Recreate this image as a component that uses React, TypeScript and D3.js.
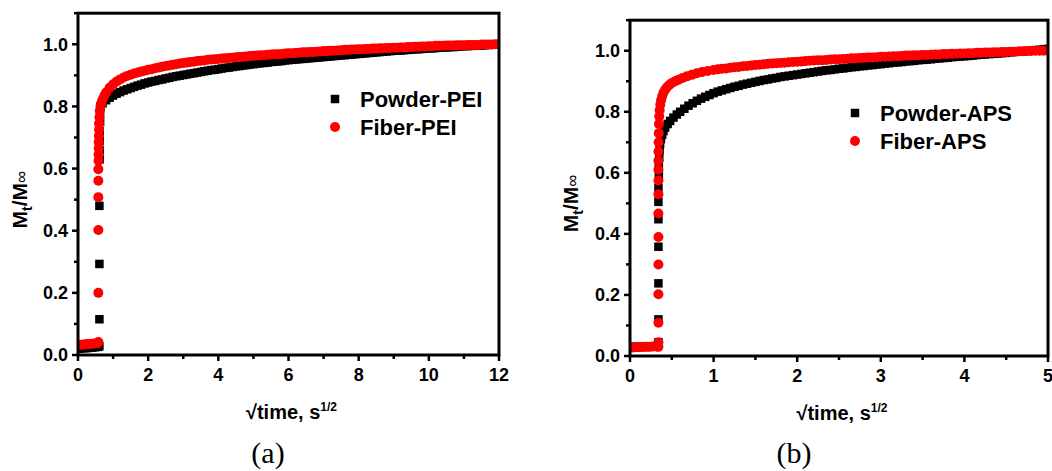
import React from 'react'
import * as d3 from 'd3'

// sorption curves: [sqrt(time), Mt/Minf]
const powderPEI: [number, number][] = [
  [0, 0.02], [0.08, 0.021], [0.16, 0.022], [0.24, 0.022], [0.32, 0.023], [0.4, 0.024], [0.48, 0.025], [0.56, 0.026], [0.61, 0.028],
  [0.61, 0.115], [0.61, 0.293], [0.61, 0.48], [0.62, 0.63], [0.62, 0.66], [0.62, 0.69], [0.62, 0.72], [0.63, 0.75], [0.63, 0.78], [0.64, 0.8],
  [0.7, 0.81], [0.8, 0.82], [0.9, 0.828], [1.0, 0.835], [1.1, 0.841], [1.2, 0.846], [1.3, 0.851], [1.4, 0.855], [1.5, 0.859], [1.6, 0.863],
  [1.7, 0.867], [1.8, 0.87], [1.9, 0.874], [2.0, 0.877], [2.1, 0.88], [2.2, 0.882], [2.3, 0.885], [2.4, 0.887], [2.5, 0.89],
  [2.6, 0.892], [2.7, 0.895], [2.8, 0.897], [2.9, 0.899], [3.0, 0.901], [3.1, 0.903], [3.2, 0.905], [3.3, 0.907], [3.4, 0.909],
  [3.5, 0.911], [3.6, 0.913], [3.7, 0.915], [3.8, 0.917], [3.9, 0.918], [4.0, 0.92], [4.1, 0.922], [4.2, 0.924], [4.3, 0.925],
  [4.4, 0.927], [4.5, 0.929], [4.6, 0.93], [4.7, 0.932], [4.8, 0.933], [4.9, 0.935], [5.0, 0.936], [5.1, 0.938], [5.2, 0.939],
  [5.3, 0.94], [5.4, 0.941], [5.5, 0.943], [5.6, 0.944], [5.7, 0.945], [5.8, 0.946], [5.9, 0.948], [6.0, 0.949], [6.1, 0.95],
  [6.2, 0.951], [6.3, 0.952], [6.4, 0.953], [6.5, 0.954], [6.6, 0.955], [6.7, 0.956], [6.8, 0.957], [6.9, 0.958], [7.0, 0.959],
  [7.1, 0.96], [7.2, 0.961], [7.3, 0.962], [7.4, 0.963], [7.5, 0.964], [7.6, 0.965], [7.7, 0.966], [7.8, 0.967], [7.9, 0.968],
  [8.0, 0.969], [8.1, 0.97], [8.2, 0.971], [8.3, 0.972], [8.4, 0.973], [8.5, 0.974], [8.6, 0.975], [8.7, 0.976], [8.8, 0.977],
  [8.9, 0.978], [9.0, 0.979], [9.1, 0.98], [9.2, 0.98], [9.3, 0.981], [9.4, 0.982], [9.5, 0.983], [9.6, 0.984], [9.7, 0.984],
  [9.8, 0.985], [9.9, 0.986], [10.0, 0.987], [10.1, 0.987], [10.2, 0.988], [10.3, 0.989], [10.4, 0.99], [10.5, 0.99], [10.6, 0.991],
  [10.7, 0.991], [10.8, 0.992], [10.9, 0.993], [11.0, 0.994], [11.1, 0.994], [11.2, 0.995], [11.3, 0.995], [11.4, 0.996],
  [11.5, 0.996], [11.6, 0.997], [11.7, 0.998], [11.8, 0.999], [11.9, 0.999], [12.0, 1.0],
]

const fiberPEI: [number, number][] = [
  [0, 0.032], [0.08, 0.033], [0.16, 0.034], [0.24, 0.035], [0.32, 0.035], [0.4, 0.036], [0.48, 0.037], [0.56, 0.038], [0.58, 0.042],
  [0.58, 0.2], [0.58, 0.402], [0.58, 0.508], [0.58, 0.561], [0.58, 0.598], [0.585, 0.625], [0.585, 0.645], [0.59, 0.665], [0.59, 0.685],
  [0.595, 0.705], [0.6, 0.725], [0.6, 0.745], [0.61, 0.765], [0.62, 0.785], [0.64, 0.8], [0.67, 0.812], [0.7, 0.822], [0.75, 0.834],
  [0.8, 0.845], [0.9, 0.86], [1.0, 0.871], [1.1, 0.88], [1.2, 0.887], [1.3, 0.893], [1.4, 0.898], [1.5, 0.902], [1.6, 0.906],
  [1.7, 0.909], [1.8, 0.912], [1.9, 0.915], [2.0, 0.918], [2.1, 0.92], [2.2, 0.923], [2.3, 0.925], [2.4, 0.928], [2.5, 0.93],
  [2.6, 0.932], [2.7, 0.934], [2.8, 0.936], [2.9, 0.938], [3.0, 0.94], [3.1, 0.941], [3.2, 0.943], [3.3, 0.944], [3.4, 0.946],
  [3.5, 0.947], [3.6, 0.948], [3.7, 0.95], [3.8, 0.951], [3.9, 0.952], [4.0, 0.953], [4.1, 0.954], [4.2, 0.955], [4.3, 0.956],
  [4.4, 0.957], [4.5, 0.958], [4.6, 0.959], [4.7, 0.96], [4.8, 0.961], [4.9, 0.962], [5.0, 0.963], [5.1, 0.964], [5.2, 0.965],
  [5.3, 0.965], [5.4, 0.966], [5.5, 0.967], [5.6, 0.968], [5.7, 0.968], [5.8, 0.969], [5.9, 0.97], [6.0, 0.971], [6.1, 0.971],
  [6.2, 0.972], [6.3, 0.973], [6.4, 0.974], [6.5, 0.974], [6.6, 0.975], [6.7, 0.975], [6.8, 0.976], [6.9, 0.977], [7.0, 0.978],
  [7.1, 0.978], [7.2, 0.979], [7.3, 0.979], [7.4, 0.98], [7.5, 0.981], [7.6, 0.982], [7.7, 0.982], [7.8, 0.983], [7.9, 0.983],
  [8.0, 0.984], [8.1, 0.984], [8.2, 0.985], [8.3, 0.985], [8.4, 0.986], [8.5, 0.986], [8.6, 0.987], [8.7, 0.987], [8.8, 0.988],
  [8.9, 0.988], [9.0, 0.989], [9.1, 0.989], [9.2, 0.99], [9.3, 0.99], [9.4, 0.991], [9.5, 0.991], [9.6, 0.992], [9.7, 0.992],
  [9.8, 0.993], [9.9, 0.993], [10.0, 0.994], [10.1, 0.994], [10.2, 0.995], [10.3, 0.995], [10.4, 0.995], [10.5, 0.996],
  [10.6, 0.996], [10.7, 0.996], [10.8, 0.997], [10.9, 0.997], [11.0, 0.997], [11.1, 0.998], [11.2, 0.998], [11.3, 0.998],
  [11.4, 0.998], [11.5, 0.999], [11.6, 0.999], [11.7, 0.999], [11.8, 0.999], [11.9, 1.0], [12.0, 1.0],
]

const powderAPS: [number, number][] = [
  [0, 0.03], [0.04, 0.03], [0.08, 0.03], [0.12, 0.03], [0.16, 0.03], [0.2, 0.03], [0.24, 0.031], [0.28, 0.031], [0.32, 0.032],
  [0.34, 0.045], [0.34, 0.12], [0.34, 0.238], [0.34, 0.358], [0.34, 0.448], [0.34, 0.505], [0.34, 0.55], [0.345, 0.59], [0.345, 0.62],
  [0.35, 0.65], [0.355, 0.675], [0.36, 0.695], [0.37, 0.71], [0.385, 0.725], [0.4, 0.737], [0.42, 0.748], [0.45, 0.76], [0.48, 0.77],
  [0.52, 0.781], [0.56, 0.791], [0.6, 0.8], [0.65, 0.81], [0.7, 0.82], [0.75, 0.828], [0.8, 0.836], [0.85, 0.843], [0.9, 0.849],
  [0.95, 0.855], [1.0, 0.861], [1.05, 0.866], [1.1, 0.87], [1.15, 0.874], [1.2, 0.878], [1.25, 0.882], [1.3, 0.885], [1.35, 0.889],
  [1.4, 0.892], [1.45, 0.895], [1.5, 0.898], [1.55, 0.901], [1.6, 0.904], [1.65, 0.906], [1.7, 0.909], [1.75, 0.911], [1.8, 0.914],
  [1.85, 0.916], [1.9, 0.918], [1.95, 0.92], [2.0, 0.922], [2.05, 0.924], [2.1, 0.926], [2.15, 0.928], [2.2, 0.93], [2.25, 0.932],
  [2.3, 0.934], [2.35, 0.936], [2.4, 0.937], [2.45, 0.939], [2.5, 0.941], [2.55, 0.942], [2.6, 0.944], [2.65, 0.946], [2.7, 0.947],
  [2.75, 0.949], [2.8, 0.95], [2.85, 0.952], [2.9, 0.953], [2.95, 0.955], [3.0, 0.956], [3.05, 0.958], [3.1, 0.959], [3.15, 0.961],
  [3.2, 0.962], [3.25, 0.963], [3.3, 0.965], [3.35, 0.966], [3.4, 0.967], [3.45, 0.969], [3.5, 0.97], [3.55, 0.971], [3.6, 0.972],
  [3.65, 0.974], [3.7, 0.975], [3.75, 0.976], [3.8, 0.977], [3.85, 0.979], [3.9, 0.98], [3.95, 0.981], [4.0, 0.982], [4.05, 0.983],
  [4.1, 0.984], [4.15, 0.986], [4.2, 0.987], [4.25, 0.988], [4.3, 0.989], [4.35, 0.99], [4.4, 0.991], [4.45, 0.992], [4.5, 0.993],
  [4.55, 0.995], [4.6, 0.996], [4.65, 0.997], [4.7, 0.998], [4.75, 0.999], [4.8, 1.0], [4.85, 1.002], [4.9, 1.003], [4.95, 1.005],
  [5.0, 1.006],
]

const fiberAPS: [number, number][] = [
  [0, 0.028], [0.04, 0.028], [0.08, 0.029], [0.12, 0.029], [0.16, 0.03], [0.2, 0.03], [0.24, 0.03], [0.28, 0.031], [0.32, 0.031],
  [0.34, 0.03], [0.34, 0.045], [0.34, 0.109], [0.34, 0.202], [0.34, 0.3], [0.34, 0.39], [0.34, 0.467], [0.34, 0.53], [0.34, 0.575],
  [0.34, 0.61], [0.34, 0.64], [0.34, 0.67], [0.342, 0.7], [0.344, 0.73], [0.346, 0.76], [0.35, 0.785], [0.355, 0.805],
  [0.362, 0.823], [0.372, 0.838], [0.385, 0.851], [0.4, 0.862], [0.42, 0.872], [0.445, 0.881], [0.47, 0.888], [0.5, 0.894],
  [0.54, 0.9], [0.58, 0.905], [0.63, 0.911], [0.68, 0.916], [0.74, 0.921], [0.8, 0.926], [0.86, 0.93], [0.93, 0.934],
  [1.0, 0.937], [1.05, 0.939], [1.1, 0.941], [1.15, 0.942], [1.2, 0.944], [1.25, 0.946], [1.3, 0.947], [1.35, 0.949], [1.4, 0.95],
  [1.45, 0.952], [1.5, 0.953], [1.55, 0.954], [1.6, 0.956], [1.65, 0.957], [1.7, 0.958], [1.75, 0.959], [1.8, 0.96], [1.85, 0.961],
  [1.9, 0.962], [1.95, 0.963], [2.0, 0.964], [2.05, 0.965], [2.1, 0.966], [2.15, 0.967], [2.2, 0.968], [2.25, 0.969], [2.3, 0.969],
  [2.35, 0.97], [2.4, 0.971], [2.45, 0.972], [2.5, 0.972], [2.55, 0.973], [2.6, 0.974], [2.65, 0.975], [2.7, 0.975], [2.75, 0.976],
  [2.8, 0.977], [2.85, 0.978], [2.9, 0.978], [2.95, 0.979], [3.0, 0.98], [3.05, 0.98], [3.1, 0.981], [3.15, 0.982], [3.2, 0.982],
  [3.25, 0.983], [3.3, 0.984], [3.35, 0.984], [3.4, 0.985], [3.45, 0.985], [3.5, 0.986], [3.55, 0.986], [3.6, 0.987], [3.65, 0.988],
  [3.7, 0.988], [3.75, 0.989], [3.8, 0.989], [3.85, 0.99], [3.9, 0.99], [3.95, 0.991], [4.0, 0.991], [4.05, 0.992], [4.1, 0.992],
  [4.15, 0.993], [4.2, 0.993], [4.25, 0.994], [4.3, 0.994], [4.35, 0.995], [4.4, 0.995], [4.45, 0.996], [4.5, 0.996], [4.55, 0.997],
  [4.6, 0.997], [4.65, 0.998], [4.7, 0.998], [4.75, 0.999], [4.8, 0.999], [4.85, 1.0], [4.9, 1.0], [4.95, 1.0], [5.0, 1.0],
]

const yTicks = [0, 0.2, 0.4, 0.6, 0.8, 1.0]
const yMinor = [0.1, 0.3, 0.5, 0.7, 0.9, 1.1]
const xTicksA = [0, 2, 4, 6, 8, 10, 12]
const xMinorA = [1, 3, 5, 7, 9, 11]
const xTicksB = [0, 1, 2, 3, 4, 5]
const xMinorB = [0.5, 1.5, 2.5, 3.5, 4.5]

const sans = "'Liberation Sans', Arial, sans-serif"
const serif = "'Liberation Serif', 'Times New Roman', serif"
const fmtY = d3.format('.1f')

function Panel(props) {
  const { id, left, right, top, bottom, xMax, xTicks, xMinor, powder, fiber, powderName, fiberName, legendX, legendY, yTitleX } = props
  const x = d3.scaleLinear().domain([0, xMax]).range([left, right])
  const y = d3.scaleLinear().domain([0, 1.1]).range([bottom, top])
  const midX = (left + right) / 2
  const sq = 8.5
  const r = 5
  return (
    <g>
      <defs>
        <clipPath id={id}>
          <rect x={left} y={top} width={right - left} height={bottom - top} />
        </clipPath>
      </defs>
      <g clipPath={`url(#${id})`}>
        {powder.map((d, i) => (
          <rect key={'p' + i} x={x(d[0]) - sq / 2} y={y(d[1]) - sq / 2} width={sq} height={sq} fill="#000" />
        ))}
        {fiber.map((d, i) => (
          <circle key={'f' + i} cx={x(d[0])} cy={y(d[1])} r={r} fill="#ff0000" />
        ))}
      </g>
      <rect x={left} y={top} width={right - left} height={bottom - top} fill="none" stroke="#000" strokeWidth={3} />
      {yTicks.map(t => (
        <g key={'yt' + t}>
          <line x1={left - 6} x2={left} y1={y(t)} y2={y(t)} stroke="#000" strokeWidth={2.5} />
          <text x={left - 10} y={y(t)} dy="0.36em" textAnchor="end" fontFamily={sans} fontWeight="bold" fontSize={18}>{fmtY(t)}</text>
        </g>
      ))}
      {yMinor.map(t => (
        <line key={'ym' + t} x1={left - 4} x2={left} y1={y(t)} y2={y(t)} stroke="#000" strokeWidth={2.5} />
      ))}
      {xTicks.map(t => (
        <g key={'xt' + t}>
          <line x1={x(t)} x2={x(t)} y1={bottom} y2={bottom + 6} stroke="#000" strokeWidth={2.5} />
          <text x={x(t)} y={bottom + 26} textAnchor="middle" fontFamily={sans} fontWeight="bold" fontSize={18}>{t}</text>
        </g>
      ))}
      {xMinor.map(t => (
        <line key={'xm' + t} x1={x(t)} x2={x(t)} y1={bottom} y2={bottom + 4} stroke="#000" strokeWidth={2.5} />
      ))}
      <text x={midX + 3} y={bottom + 64} textAnchor="middle" fontFamily={sans} fontWeight="bold" fontSize={20}>
        √time, s<tspan fontSize={12} dy={-8}>1/2</tspan>
      </text>
      <text transform={`translate(${yTitleX},${y(0.5)}) rotate(-90)`} textAnchor="middle" fontFamily={sans} fontWeight="bold" fontSize={21}>
        M<tspan fontSize={14} dy={5}>t</tspan><tspan dy={-5}>/M</tspan><tspan fontWeight="normal" fontSize={17}>∞</tspan>
      </text>
      <rect x={legendX - sq / 2} y={legendY - sq / 2} width={sq} height={sq} fill="#000" />
      <text x={legendX + 25} y={legendY} dy="0.36em" fontFamily={sans} fontWeight="bold" fontSize={22}>{powderName}</text>
      <circle cx={legendX} cy={legendY + 28} r={r} fill="#ff0000" />
      <text x={legendX + 25} y={legendY + 28} dy="0.36em" fontFamily={sans} fontWeight="bold" fontSize={22}>{fiberName}</text>
    </g>
  )
}

export default function App() {
  return (
    <svg width={1052} height={471} style={{ position: 'absolute', left: 0, top: 0, background: '#fff' }}>
      <Panel id="clipA" left={78} right={499} top={13.2} bottom={355} xMax={12} xTicks={xTicksA} xMinor={xMinorA}
        powder={powderPEI} fiber={fiberPEI} powderName="Powder-PEI" fiberName="Fiber-PEI"
        legendX={335} legendY={99} yTitleX={27} />
      <Panel id="clipB" left={630} right={1048} top={20.2} bottom={356} xMax={5} xTicks={xTicksB} xMinor={xMinorB}
        powder={powderAPS} fiber={fiberAPS} powderName="Powder-APS" fiberName="Fiber-APS"
        legendX={855} legendY={113} yTitleX={578} />
      <text x={268} y={463} textAnchor="middle" fontFamily={serif} fontSize={30}>(a)</text>
      <text x={794} y={463} textAnchor="middle" fontFamily={serif} fontSize={30}>(b)</text>
    </svg>
  )
}
